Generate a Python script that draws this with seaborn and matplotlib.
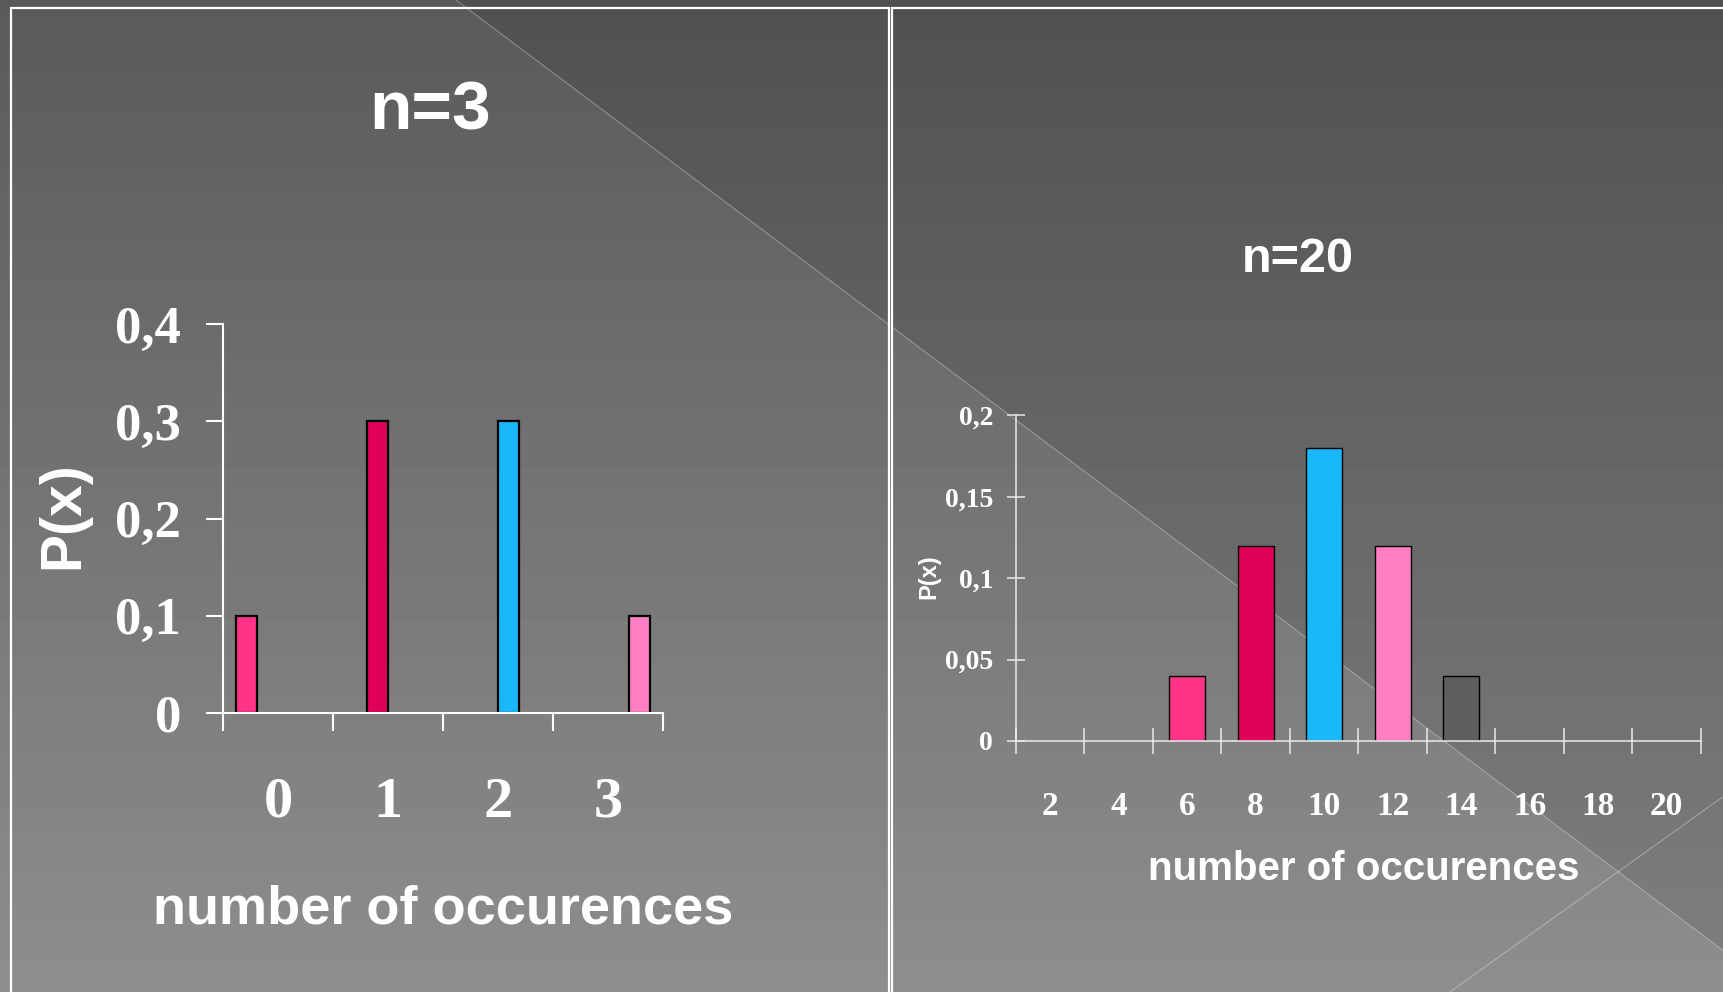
import numpy as np
import pandas as pd
import matplotlib
matplotlib.use("Agg")
import matplotlib.pyplot as plt
from matplotlib import font_manager as fm
from matplotlib.patches import Polygon
import seaborn as sns

# ---- data: binomial probabilities, n = 3 ----
k3 = ["0", "1", "2", "3"]
p3 = [0.1, 0.3, 0.3, 0.1]
series3 = ["k0", "k1", "k2", "k3"]
colors3 = ["#FF3388", "#E0005A", "#19B8FB", "#FF7DC2"]
yticks3 = [0, 0.1, 0.2, 0.3, 0.4]

# ---- data: binomial probabilities, n = 20 ----
k20 = ["2", "4", "6", "8", "10", "12", "14", "16", "18", "20"]
p20 = [0, 0, 0.04, 0.12, 0.18, 0.12, 0.04, 0, 0, 0]
colors20 = {"6": "#FF3388", "8": "#E0005A", "10": "#19B8FB",
            "12": "#FF7DC2", "14": "#5E5E5E"}
yticks20 = [0, 0.05, 0.1, 0.15, 0.2]

W, H, DPI = 1724, 992, 100

sns.set_theme(style="ticks")


def sans(size):
    return fm.FontProperties(family=["Liberation Sans", "DejaVu Sans"], weight="bold", size=size)


def serif(size):
    return fm.FontProperties(family=["Liberation Serif", "DejaVu Serif"], weight="bold", size=size)


def comma(v):
    return f"{v:g}".replace(".", ",")


fig = plt.figure(figsize=(W / DPI, H / DPI), dpi=DPI)

# ---- slide background ----
bg = fig.add_axes([0, 0, 1, 1], zorder=-10)
bg.set_xlim(0, W)
bg.set_ylim(H, 0)
bg.axis("off")
shade = np.linspace(0x5A, 0x8E, 256) / 255
bg.imshow(np.repeat(shade[:, None], 2, axis=1), cmap="gray", vmin=0, vmax=1,
          extent=[0, W, H, 0], aspect="auto", interpolation="bilinear")
bg.add_patch(Polygon([(456, 0), (W, 0), (W, 951)], closed=True,
                     facecolor="black", alpha=0.1, edgecolor="none"))
bg.plot([456, W], [0, 951], color="white", alpha=0.3, lw=0.8)
bg.plot([W, 1450], [796, H], color="white", alpha=0.3, lw=0.8)
# panel frames
bg.plot([11.5, 11.5, 889, 889], [H + 5, 7.8, 7.8, H + 5], color="white", lw=1.6,
        solid_joinstyle="miter")
bg.plot([892, 892, W + 5], [H + 5, 7.8, 7.8], color="white", lw=1.6,
        solid_joinstyle="miter")


def px_axes(x0, y0, x1, y1):
    return fig.add_axes([x0 / W, 1 - y1 / H, (x1 - x0) / W, (y1 - y0) / H])


ax1 = px_axes(223, 324.3, 663, 712.7)
ax2 = px_axes(1015.7, 415.3, 1701, 741)

# ---- n = 3 : clustered bars, one category per series ----
df3 = pd.DataFrame({"k": k3, "p": p3, "series": series3})
sns.barplot(data=df3, x="k", y="p", hue="series", order=k3, hue_order=series3,
            palette=colors3, saturation=1, dodge=True, width=0.76, edgecolor="black",
            linewidth=1.6, errorbar=None, legend=False, ax=ax1)

# ---- n = 20 : one bar per category ----
df20 = pd.DataFrame({"k": k20, "p": p20})
sns.barplot(data=df20[df20["p"] > 0], x="k", y="p", hue="k", order=k20,
            hue_order=list(colors20), palette=colors20, saturation=1, dodge=False,
            width=0.525, edgecolor="black", linewidth=1.0, errorbar=None,
            legend=False, ax=ax2)

for ax, lw, col in ((ax1, 1.5, "white"), (ax2, 1.1, "#EAEAEA")):
    ax.set_facecolor("none")
    ax.patch.set_visible(False)
    ax.spines["top"].set_visible(False)
    ax.spines["right"].set_visible(False)
    for s in ("left", "bottom"):
        ax.spines[s].set_color(col)
        ax.spines[s].set_linewidth(lw)

# left chart axes
ax1.set_xlim(-0.5, len(k3) - 0.5)
ax1.set_ylim(0, 0.4)
ax1.set_yticks(yticks3, labels=[comma(v) for v in yticks3], fontproperties=serif(38),
               color="white")
ax1.set_xticks(range(len(k3)), labels=k3, fontproperties=serif(42), color="white")
ax1.set_xticks(np.arange(-0.5, len(k3)), minor=True)
ax1.tick_params(axis="y", which="major", left=True, direction="out", length=12.2,
                width=1.5, color="white", pad=17.8)
ax1.tick_params(axis="x", which="major", bottom=True, length=0, pad=46)
ax1.tick_params(axis="x", which="minor", bottom=True, direction="out", length=13,
                width=1.5, color="white")
ax1.set_xlabel("number of occurences", fontproperties=sans(39), color="white",
               va="baseline")
ax1.xaxis.set_label_coords(0.5, (712.7 - 924) / 388.4)
ax1.set_ylabel("P(x)", fontproperties=sans(41), color="white", va="center")
ax1.yaxis.set_label_coords((63 - 223) / 440, (712.7 - 515) / 388.4)

# right chart axes
ax2.set_xlim(-0.5, len(k20) - 0.5)
ax2.set_ylim(0, 0.2)
ax2.set_yticks(yticks20, labels=[comma(v) for v in yticks20],
               fontproperties=serif(20), color="white")
ax2.set_xticks(range(len(k20)), labels=k20, fontproperties=serif(24), color="white")
ax2.set_xticks(np.arange(-0.5, len(k20)), minor=True)
ax2.tick_params(axis="y", which="major", left=True, direction="inout", length=12.5,
                width=1.1, color="#EAEAEA", pad=10)
ax2.tick_params(axis="x", which="major", bottom=True, length=0, pad=36)
ax2.tick_params(axis="x", which="minor", bottom=True, direction="inout", length=19.4,
                width=1.1, color="#EAEAEA")
ax2.set_xlabel("number of occurences", fontproperties=sans(29), color="white",
               va="baseline")
ax2.xaxis.set_label_coords((1364 - 1015.7) / 685.3, (741 - 880) / 325.7)
ax2.set_ylabel("P(x)", fontproperties=sans(17), color="white", va="center")
ax2.yaxis.set_label_coords((929 - 1015.7) / 685.3, (741 - 577) / 325.7)

# panel titles
fig.text(430 / W, 1 - 130 / H, "n=3", ha="center", va="baseline",
         fontproperties=sans(50), color="white")
fig.text(1298 / W, 1 - 271.6 / H, "n=20", ha="center", va="baseline",
         fontproperties=sans(35), color="white")

fig.savefig("out.png", dpi=DPI)
